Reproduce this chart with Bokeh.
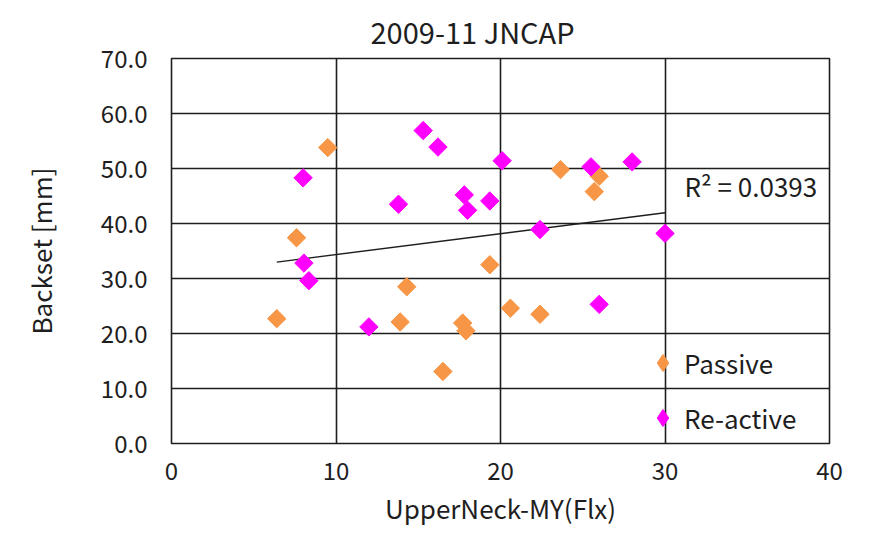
import numpy as np
from bokeh.plotting import figure
from bokeh.models import Label, Legend, LegendItem, FixedTicker, PrintfTickFormatter, Range1d
from bokeh.embed import file_html
from bokeh.resources import INLINE

# Passive series
passive_x = [6.4, 7.6, 9.5, 13.9, 14.3, 16.5, 17.7, 17.9, 19.35, 20.6, 22.4, 23.65, 25.7, 26.0]
passive_y = [22.7, 37.4, 53.8, 22.1, 28.5, 13.1, 21.9, 20.5, 32.5, 24.6, 23.5, 49.8, 45.8, 48.6]
# Re-active series
reactive_x = [8.0, 8.05, 8.35, 12.0, 13.8, 15.3, 16.2, 17.8, 18.0, 19.35, 20.1, 22.4, 25.5, 26.0, 28.0, 30.0]
reactive_y = [48.3, 32.8, 29.6, 21.2, 43.5, 56.9, 53.9, 45.2, 42.4, 44.1, 51.4, 38.9, 50.3, 25.3, 51.2, 38.2]

x_ticks = [0, 10, 20, 30, 40]
y_ticks = [0, 10, 20, 30, 40, 50, 60, 70]
title_text = "2009-11 JNCAP"
x_label = "UpperNeck-MY(Flx)"
y_label = "Backset [mm]"
r2_text = "R\u00b2 = 0.0393"

FONT = "Noto Sans CJK JP"
ORANGE = "#F79646"
MAGENTA = "#FF00FF"
INK = "#1e1e1e"

p = figure(width=871, height=528, output_backend="svg", toolbar_location=None,
           x_range=Range1d(0, 40), y_range=Range1d(0, 70),
           min_border_left=171, min_border_right=42, min_border_top=58, min_border_bottom=84)

p.title.text = title_text
p.title.align = "left"
p.title.offset = 199
p.title.standoff = 14
p.title.text_font = FONT
p.title.text_font_size = "29px"
p.title.text_font_style = "normal"
p.title.text_color = INK

for ax in (p.xaxis[0], p.yaxis[0]):
    ax.axis_line_color = None
    ax.major_tick_line_color = None
    ax.minor_tick_line_color = None
    ax.major_tick_in = 0
    ax.major_tick_out = 0
    ax.minor_tick_in = 0
    ax.minor_tick_out = 0
    ax.major_label_text_font = FONT
    ax.major_label_text_font_size = "24px"
    ax.major_label_text_color = INK
    ax.axis_label_text_font = FONT
    ax.axis_label_text_font_size = "26px"
    ax.axis_label_text_font_style = "normal"
    ax.axis_label_text_color = INK

p.xaxis.ticker = FixedTicker(ticks=x_ticks)
p.yaxis.ticker = FixedTicker(ticks=y_ticks)
p.yaxis.formatter = PrintfTickFormatter(format="%.1f")
p.xaxis.axis_label = x_label
p.yaxis.axis_label = y_label
p.xaxis.major_label_standoff = 18
p.yaxis.major_label_standoff = 24
p.xaxis.axis_label_standoff = 6
p.yaxis.axis_label_standoff = 39

p.xgrid.grid_line_color = INK
p.ygrid.grid_line_color = INK
p.xgrid.grid_line_width = 1.6
p.ygrid.grid_line_width = 1.6
p.outline_line_color = INK
p.outline_line_width = 1.6
p.background_fill_color = "white"
p.border_fill_color = "white"

# trendline over all points
all_x = np.array(passive_x + reactive_x)
all_y = np.array(passive_y + reactive_y)
slope, intercept = np.polyfit(all_x, all_y, 1)
tx = np.array([all_x.min(), all_x.max()])
p.line(tx, slope * tx + intercept, line_color=INK, line_width=1.4)

p.scatter(passive_x, passive_y, marker="square", angle=np.pi / 4, size=13,
          fill_color=ORANGE, line_color=ORANGE)
p.scatter(reactive_x, reactive_y, marker="square", angle=np.pi / 4, size=13,
          fill_color=MAGENTA, line_color=MAGENTA)

lg1 = p.scatter([0], [0], marker="diamond", size=17,
                fill_color=ORANGE, line_color=ORANGE, visible=False)
lg2 = p.scatter([0], [0], marker="diamond", size=17,
                fill_color=MAGENTA, line_color=MAGENTA, visible=False)

legend = Legend(items=[LegendItem(label="Passive", renderers=[lg1]),
                       LegendItem(label="Re-active", renderers=[lg2])],
                location=(470, 4), border_line_color=None, background_fill_alpha=0,
                padding=0, margin=0, spacing=12, glyph_width=43, glyph_height=43,
                label_height=26, label_standoff=-7, label_text_font=FONT,
                label_text_font_size="26px", label_text_color=INK)
p.add_layout(legend, "center")

p.add_layout(Label(x=31.19, y=46.9, text=r2_text, text_font=FONT, text_font_size="26px",
                   text_color=INK, text_baseline="middle"))

open("out.html", "w").write(file_html(p, INLINE))
